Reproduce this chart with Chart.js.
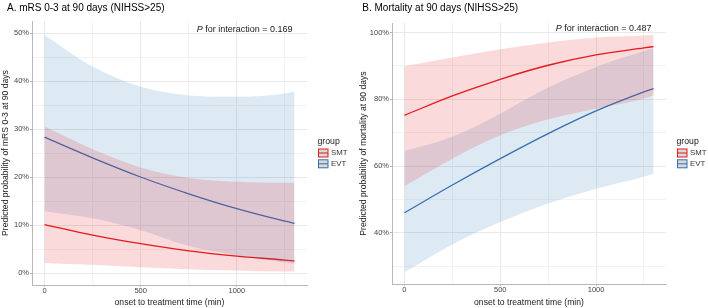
<!DOCTYPE html>
<html lang="en">
<head>
<meta charset="utf-8">
<title>Predicted probability by onset to treatment time (NIHSS&gt;25)</title>
<script src="https://cdn.jsdelivr.net/npm/chart.js@4.4.1/dist/chart.umd.min.js"></script>
<style>
  html, body { margin: 0; padding: 0; background: #fff; }
  .panels { position: relative; width: 708px; height: 308px; }
  .panels canvas { position: absolute; top: 0; }
  #mrsChart { left: 0; }
  #mortalityChart { left: 354px; }
</style>
</head>
<body>
<div class="panels">
  <canvas id="mrsChart" width="354" height="308"></canvas>
  <canvas id="mortalityChart" width="354" height="308"></canvas>
</div>
<script>
/* Two ribbon panels: predicted probability (with CI) vs onset-to-treatment time,
   SMT vs EVT. */

const groupNames = ['SMT', 'EVT'];
const timePoints = [0, 250, 500, 750, 1000, 1250, 1300];

// A. mRS 0-3 at 90 days
const smtMrsFit = [0.101, 0.079, 0.061, 0.046, 0.035, 0.027, 0.025];
const smtMrsLower = [0.021, 0.017, 0.012, 0.008, 0.005, 0.003, 0.003];
const smtMrsUpper = [0.305, 0.258, 0.220, 0.198, 0.190, 0.188, 0.188];
const evtMrsFit = [0.283, 0.240, 0.200, 0.165, 0.134, 0.108, 0.1035];
const evtMrsLower = [0.128, 0.114, 0.089, 0.056, 0.037, 0.022, 0.019];
const evtMrsUpper = [0.496, 0.430, 0.388, 0.370, 0.367, 0.374, 0.378];

// B. Mortality at 90 days
const smtMortFit = [0.752, 0.810, 0.860, 0.902, 0.933, 0.954, 0.958];
const smtMortLower = [0.540, 0.622, 0.692, 0.740, 0.772, 0.802, 0.812];
const smtMortUpper = [0.899, 0.925, 0.950, 0.970, 0.985, 0.991, 0.993];
const evtMortFit = [0.460, 0.543, 0.622, 0.697, 0.765, 0.822, 0.832];
const evtMortLower = [0.282, 0.365, 0.432, 0.488, 0.532, 0.568, 0.577];
const evtMortUpper = [0.645, 0.688, 0.757, 0.835, 0.897, 0.945, 0.953];

// tick labels / breaks
const xMajorTicks = [0, 500, 1000];
const xMinorTicks = [250, 750, 1250];
const xAxisRange = [-65, 1365];
const mrsMajorTicks = [0, 0.1, 0.2, 0.3, 0.4, 0.5];
const mrsMinorTicks = [0.05, 0.15, 0.25, 0.35, 0.45];
const mrsAxisRange = [-0.025, 0.525];
const mortMajorTicks = [0.4, 0.6, 0.8, 1.0];
const mortMinorTicks = [0.3, 0.5, 0.7, 0.9];
const mortAxisRange = [0.2465, 1.0286];

const FONT = '"Liberation Sans", Arial, sans-serif';
const lineColors = ['#e41a1c', '#386cb0'];
const bandColors = ['rgba(228,26,28,0.16)', 'rgba(55,126,184,0.17)'];
const MAJOR_GRID = '#e9e9e9';
const MINOR_GRID = '#f3f3f3';
const AXIS_COLOR = '#b8b8b8';
const TICK_TEXT = '#444';

Chart.defaults.font.family = FONT;

const toPoints = values => values.map((y, i) => ({ x: timePoints[i], y }));
const mergeTicks = (major, minor) => [...major, ...minor].sort((a, b) => a - b).map(value => ({ value }));
const pct = v => `${Math.round(v * 100)}%`;

function bandDatasets(lower, upper, idx) {
  const base = { pointRadius: 0, cubicInterpolationMode: 'monotone', borderWidth: 0, borderColor: 'transparent' };
  return [
    { ...base, label: `${groupNames[idx]} lower`, data: toPoints(lower), fill: false },
    { ...base, label: `${groupNames[idx]} upper`, data: toPoints(upper), fill: '-1', backgroundColor: bandColors[idx] }
  ];
}

function lineDataset(fit, idx) {
  return {
    label: groupNames[idx], data: toPoints(fit), fill: false, pointRadius: 0,
    cubicInterpolationMode: 'monotone', borderColor: lineColors[idx], borderWidth: 1.3
  };
}

function gridStyle(major) {
  return {
    color: ctx => (major.includes(ctx.tick?.value) ? MAJOR_GRID : MINOR_GRID),
    tickColor: ctx => (major.includes(ctx.tick?.value) ? AXIS_COLOR : 'transparent'),
    tickLength: 2,
    lineWidth: 1
  };
}

function buildScales({ yMajor, yMinor, yRange, yTitle, yWidth, yTitlePad, xHeight }) {
  return {
    x: {
      type: 'linear', min: xAxisRange[0], max: xAxisRange[1],
      afterBuildTicks: scale => { scale.ticks = mergeTicks(xMajorTicks, xMinorTicks); },
      afterFit: scale => { scale.height = xHeight; },
      grid: gridStyle(xMajorTicks),
      border: { color: AXIS_COLOR, width: 1 },
      ticks: {
        autoSkip: false, maxRotation: 0, padding: -1, color: TICK_TEXT, font: { size: 7.5 },
        callback: v => (xMajorTicks.includes(v) ? String(v) : '')
      },
      title: { display: true, text: 'onset to treatment time (min)', color: '#1a1a1a', font: { size: 8.6 }, padding: { top: 0, bottom: 0 } }
    },
    y: {
      type: 'linear', min: yRange[0], max: yRange[1],
      afterBuildTicks: scale => { scale.ticks = mergeTicks(yMajor, yMinor); },
      afterFit: scale => { scale.width = yWidth; },
      grid: gridStyle(yMajor),
      border: { color: AXIS_COLOR, width: 1 },
      ticks: {
        autoSkip: false, padding: 1, color: TICK_TEXT, font: { size: 7.5 },
        callback: v => (yMajor.includes(v) ? pct(v) : '')
      },
      title: { display: true, text: yTitle, color: '#1a1a1a', font: { size: 8.6 }, padding: { top: yTitlePad, bottom: 0 } }
    }
  };
}

// title, P annotation and the ggplot-like legend
const panelDecor = {
  id: 'panelDecor',
  afterDraw(chart, args, opts) {
    const { ctx, chartArea, scales } = chart;
    ctx.save();
    ctx.fillStyle = '#000';
    ctx.font = `10px ${FONT}`;
    ctx.textAlign = 'left';
    ctx.textBaseline = 'alphabetic';
    ctx.fillText(opts.title, opts.titleX, 10.5);

    const right = scales.x.getPixelForValue(timePoints[timePoints.length - 1]) - 2;
    const rest = ` for interaction = ${opts.pValue}`;
    ctx.fillStyle = '#1a1a1a';
    ctx.font = `9px ${FONT}`;
    ctx.textAlign = 'right';
    ctx.fillText(rest, right, opts.pBaseline);
    const restWidth = ctx.measureText(rest).width;
    ctx.font = `italic 9px ${FONT}`;
    ctx.fillText('P', right - restWidth, opts.pBaseline);

    const lx = chartArea.right + 11;
    ctx.textAlign = 'left';
    ctx.textBaseline = 'middle';
    ctx.font = `8.7px ${FONT}`;
    ctx.fillText('group', lx - 0.5, 141.7);
    groupNames.forEach((name, i) => {
      const top = 148.5 + i * 10.8;
      ctx.fillStyle = '#d9d9d9';
      ctx.fillRect(lx + 0.5, top + 0.5, 9.5, 8);
      ctx.strokeStyle = lineColors[i];
      ctx.lineWidth = 1;
      ctx.strokeRect(lx + 0.5, top + 0.5, 9.5, 8);
      ctx.beginPath();
      ctx.moveTo(lx + 0.5, top + 4.5);
      ctx.lineTo(lx + 10, top + 4.5);
      ctx.stroke();
      ctx.fillStyle = '#333';
      ctx.font = `7.8px ${FONT}`;
      ctx.fillText(name, lx + 13, top + 4.7);
    });
    ctx.restore();
  }
};

function createPanel(canvasId, { series, scaleCfg, decor, padding }) {
  const [smtFit, smtLower, smtUpper, evtFit, evtLower, evtUpper] = series;
  return new Chart(document.getElementById(canvasId), {
    type: 'line',
    data: {
      datasets: [
        ...bandDatasets(smtLower, smtUpper, 0),
        ...bandDatasets(evtLower, evtUpper, 1),
        lineDataset(smtFit, 0),
        lineDataset(evtFit, 1)
      ]
    },
    options: {
      responsive: false,
      animation: false,
      devicePixelRatio: 1,
      layout: { padding },
      scales: buildScales(scaleCfg),
      plugins: { legend: { display: false }, tooltip: { enabled: false }, title: { display: false }, panelDecor: decor }
    },
    plugins: [panelDecor]
  });
}

createPanel('mrsChart', {
  series: [smtMrsFit, smtMrsLower, smtMrsUpper, evtMrsFit, evtMrsLower, evtMrsUpper],
  scaleCfg: {
    yMajor: mrsMajorTicks, yMinor: mrsMinorTicks, yRange: mrsAxisRange,
    yTitle: 'Predicted probability of mRS 0-3 at 90 days', yWidth: 32, yTitlePad: 0, xHeight: 23
  },
  decor: { title: 'A. mRS 0-3 at 90 days (NIHSS>25)', titleX: 7, pValue: '0.169', pBaseline: 31.7 },
  padding: { left: 0, right: 47, top: 21, bottom: 0 }
});

createPanel('mortalityChart', {
  series: [smtMortFit, smtMortLower, smtMortUpper, evtMortFit, evtMortLower, evtMortUpper],
  scaleCfg: {
    yMajor: mortMajorTicks, yMinor: mortMinorTicks, yRange: mortAxisRange,
    yTitle: 'Predicted probability of mortality at 90 days', yWidth: 38, yTitlePad: 4, xHeight: 24
  },
  decor: { title: 'B. Mortality at 90 days (NIHSS>25)', titleX: 8.3, pValue: '0.487', pBaseline: 30.7 },
  padding: { left: 0, right: 42, top: 23, bottom: 0 }
});
</script>
</body>
</html>
